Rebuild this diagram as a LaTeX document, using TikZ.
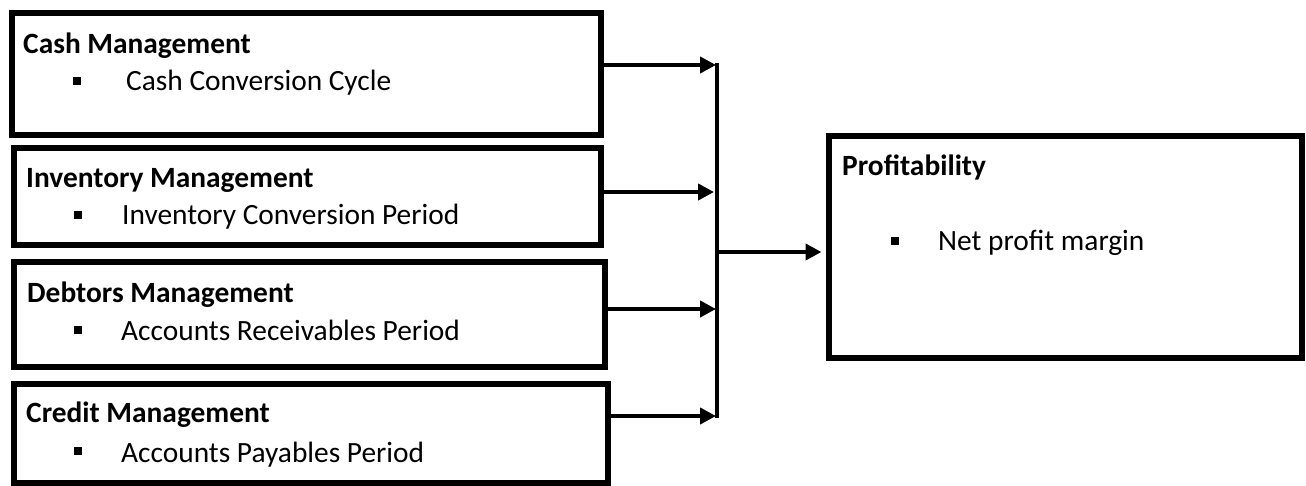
\documentclass[tikz,border=0pt]{standalone}
\usepackage{fontspec}
\setmainfont{Carlito}
\usetikzlibrary{arrows.meta}
\begin{document}
\begin{tikzpicture}[x=1pt,y=-1pt,
  box/.style={draw=black,line width=6pt,rectangle,inner sep=0pt,fill=white},
  head/.style={anchor=base west,inner sep=0pt,font=\fontsize{29.4}{35}\selectfont\bfseries},
  item/.style={anchor=base west,inner sep=0pt,font=\fontsize{29.4}{35}\selectfont},
  bul/.style={fill=black,rectangle,inner sep=0pt,minimum size=8pt},
  arr/.style={line width=4.5pt,-{Triangle[length=16pt,width=16pt]}},
  bus/.style={line width=4.5pt}]
\useasboundingbox (0,0) rectangle (1306,485);
% boxes
\node[box,minimum width=589.5pt,minimum height=122pt] (cash) at (306.25,74) {};
\node[box,minimum width=587pt,minimum height=97pt] (inv) at (307.5,196.5) {};
\node[box,minimum width=591pt,minimum height=105pt] (deb) at (309.5,314) {};
\node[box,minimum width=594pt,minimum height=99pt] (cred) at (311,433.5) {};
\node[box,minimum width=473.5pt,minimum height=222pt] (profit) at (1065.25,247) {};
% texts
\node[head] (cashh) at (23,53) {Cash Management};
\node[bul] (cashb) at (77,81) {};
\node[item] (cashi) at (126,90) {Cash Conversion Cycle};
\node[head] (invh) at (26,187) {Inventory Management};
\node[bul] (invb) at (78,215) {};
\node[item] (invi) at (122,224) {Inventory Conversion Period};
\node[head] (debh) at (27,302) {Debtors Management};
\node[bul] (debb) at (78,330) {};
\node[item] (debi) at (121,340) {Accounts Receivables Period};
\node[head] (credh) at (26,422) {Credit Management};
\node[bul] (credb) at (78,451) {};
\node[item] (credi) at (121,462) {Accounts Payables Period};
\node[head] (profh) at (842,175) {Profitability};
\node[bul] (profb) at (895,241) {};
\node[item] (profi) at (938,250) {Net profit margin};
% bus
\coordinate (bt) at (717,63);
\coordinate (bb) at (717,418);
\coordinate (j1) at (716,65);
\coordinate (j2) at (714,192);
\coordinate (j3) at (716,309);
\coordinate (j4) at (716,416);
\coordinate (jo) at (717,252);
\draw[bus] (bt) -- (bb);
\draw[arr] (cash.east |- j1) -- (j1);
\draw[arr] (inv.east |- j2) -- (j2);
\draw[arr] (deb.east |- j3) -- (j3);
\draw[arr] (cred.east |- j4) -- (j4);
\draw[arr,shorten >=4pt] (jo) -- (profit.west |- jo);
\end{tikzpicture}
\end{document}
